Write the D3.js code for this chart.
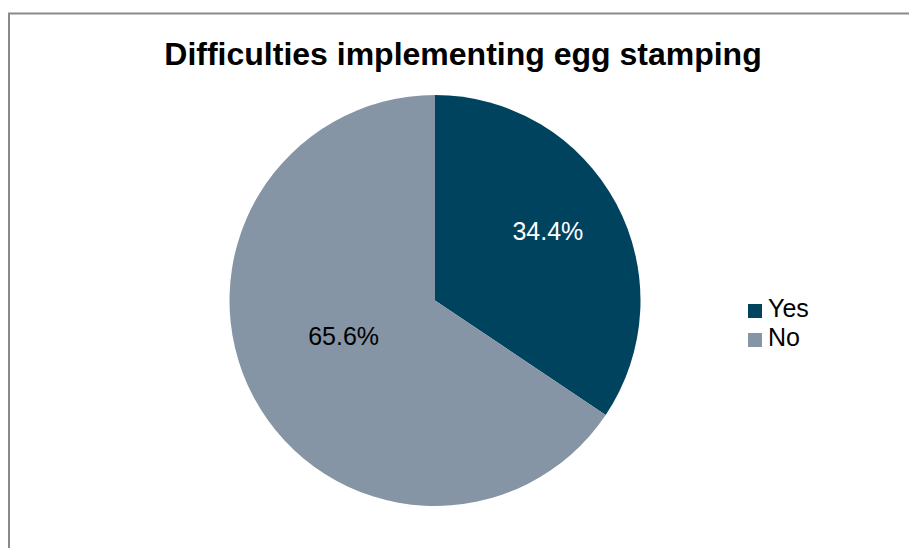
<html lang="en">
<head>
<meta charset="UTF-8">
<title>Difficulties implementing egg stamping</title>
<style>
  body { margin: 0; background: #fff; }
  svg { display: block; font-family: "Liberation Sans", Arial, sans-serif; }
</style>
</head>
<body>
<div id="chart"></div>
<script src="https://d3js.org/d3.v7.min.js"></script>
<script>
const categories = ["Yes", "No"];
const values = [34.4, 65.6];
const colors = ["#00435f", "#8595a5"];
const labelColors = ["#ffffff", "#000000"];

const width = 909, height = 548;
const cx = 435, cy = 300.5, radius = 205.5;
// how far out each data label sits, as a share of the radius
const labelPos = [0.65, 0.46];
// small nudges so labels land where the original "best fit" put them
const labelNudge = [[-5, -7], [-8, -9]];

const svg = d3.select("#chart").append("svg")
    .attr("width", width)
    .attr("height", height);

// outer frame (right and bottom edges fall outside the picture)
svg.append("rect")
    .attr("x", 9).attr("y", 13.5)
    .attr("width", 940).attr("height", 600)
    .attr("fill", "#fff")
    .attr("stroke", "#898989")
    .attr("stroke-width", 2);

svg.append("text")
    .attr("x", 463)
    .attr("y", 65)
    .attr("text-anchor", "middle")
    .style("font-size", "32px")
    .style("font-weight", "bold")
    .text("Difficulties implementing egg stamping");

const pie = d3.pie().sort(null).value(d => d);
const arcs = pie(values);
const arc = d3.arc().innerRadius(0).outerRadius(radius);

const g = svg.append("g").attr("transform", `translate(${cx},${cy})`);

g.selectAll("path")
    .data(arcs)
    .enter()
    .append("path")
    .attr("d", arc)
    .attr("fill", (d, i) => colors[i]);

g.selectAll("text.lbl")
    .data(arcs)
    .enter()
    .append("text")
    .attr("class", "lbl")
    .attr("transform", (d, i) => {
        const r = radius * labelPos[i];
        const [x, y] = d3.arc().innerRadius(r).outerRadius(r).centroid(d);
        return `translate(${x + labelNudge[i][0]},${y + labelNudge[i][1]})`;
    })
    .attr("text-anchor", "middle")
    .attr("dy", "0.36em")
    .style("font-size", "25px")
    .attr("fill", (d, i) => labelColors[i])
    .text(d => d.data.toFixed(1) + "%");

const legend = svg.append("g").attr("transform", "translate(748,304)");
const items = legend.selectAll("g")
    .data(categories)
    .enter()
    .append("g")
    .attr("transform", (d, i) => `translate(0,${i * 29})`);
items.append("rect")
    .attr("width", 14).attr("height", 14)
    .attr("fill", (d, i) => colors[i]);
items.append("text")
    .attr("x", 20).attr("y", 13)
    .style("font-size", "25px")
    .text(d => d);
</script>
</body>
</html>
